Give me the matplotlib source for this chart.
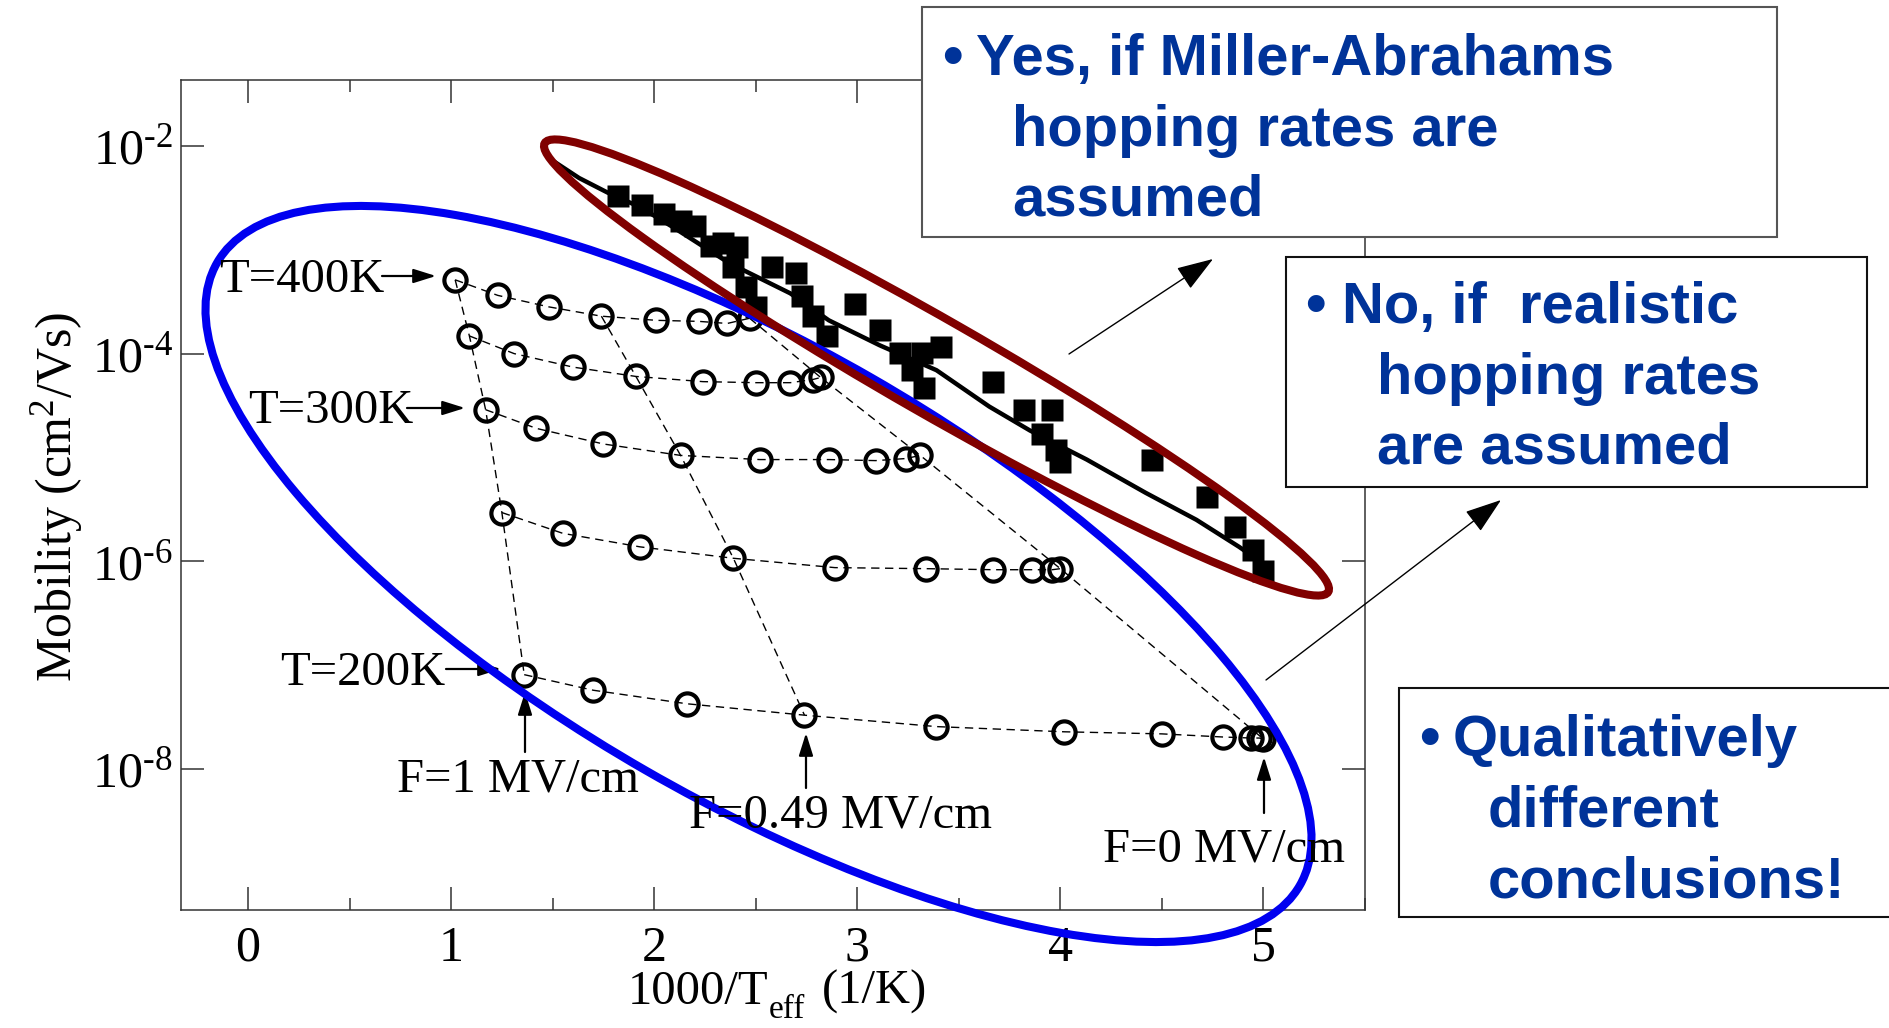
import numpy as np
import matplotlib
matplotlib.use("Agg")
import matplotlib.pyplot as plt
from matplotlib.patches import Ellipse, Rectangle, FancyArrowPatch
from matplotlib.transforms import Affine2D
from matplotlib.ticker import MultipleLocator, FixedLocator, NullLocator, FuncFormatter

plt.rcParams['font.family'] = ['Liberation Serif', 'DejaVu Serif']
plt.rcParams['mathtext.fontset'] = 'custom'
plt.rcParams['mathtext.rm'] = 'Liberation Serif'
plt.rcParams['mathtext.it'] = 'Liberation Serif:italic'
plt.rcParams['axes.unicode_minus'] = False

# ---- data: x = 1000/T_eff (1/K), values are log10(mobility in cm^2/Vs) ----
# realistic hopping rates, one row per temperature (fields 1 ... 0 MV/cm)
t400_x = [1.02, 1.23, 1.48, 1.74, 2.01, 2.22, 2.36, 2.47]
t400_mu = [-3.29, -3.44, -3.55, -3.64, -3.68, -3.69, -3.71, -3.66]
t350_x = [1.09, 1.31, 1.60, 1.91, 2.24, 2.50, 2.67, 2.78, 2.82]
t350_mu = [-3.83, -4.00, -4.13, -4.22, -4.27, -4.28, -4.28, -4.25, -4.23]
t300_x = [1.17, 1.42, 1.75, 2.13, 2.52, 2.86, 3.09, 3.24, 3.31]
t300_mu = [-4.54, -4.72, -4.87, -4.98, -5.02, -5.02, -5.03, -5.01, -4.98]
t250_x = [1.25, 1.55, 1.93, 2.39, 2.89, 3.34, 3.67, 3.86, 3.96, 4.00]
t250_mu = [-5.53, -5.73, -5.86, -5.97, -6.06, -6.07, -6.08, -6.08, -6.08, -6.07]
t200_x = [1.36, 1.70, 2.16, 2.74, 3.39, 4.02, 4.50, 4.80, 4.94, 4.98, 5.00]
t200_mu = [-7.09, -7.24, -7.37, -7.48, -7.59, -7.64, -7.66, -7.69, -7.70, -7.70, -7.71]

# Miller-Abrahams: squares and solid curve
ma_sq_x = [1.82, 1.94, 2.05, 2.13, 2.20, 2.28, 2.34, 2.41, 2.39, 2.45, 2.50, 2.58,
           2.70, 2.73, 2.78, 2.85, 2.99, 3.11, 3.21, 3.27, 3.33, 3.32, 3.41, 3.67,
           3.82, 3.96, 3.91, 3.98, 4.00, 4.45, 4.72, 4.86, 4.95, 5.00]
ma_sq_mu = [-2.48, -2.57, -2.66, -2.72, -2.77, -2.96, -2.94, -2.97, -3.17, -3.36, -3.55, -3.17,
            -3.22, -3.45, -3.64, -3.83, -3.52, -3.77, -3.99, -4.16, -4.33, -3.99, -3.94, -4.27,
            -4.54, -4.54, -4.77, -4.93, -5.04, -5.02, -5.38, -5.67, -5.89, -6.09]
ma_line_x = [1.49, 1.63, 1.77, 1.93, 2.09, 2.37, 2.67, 2.86, 3.11, 3.39, 3.65, 3.85,
             4.13, 4.42, 4.67, 4.88, 4.99]
ma_line_mu = [-2.13, -2.31, -2.45, -2.59, -2.78, -3.13, -3.42, -3.68, -3.92, -4.16, -4.51, -4.74,
              -5.02, -5.34, -5.60, -5.86, -6.01]

rows = [(t400_x, t400_mu), (t350_x, t350_mu), (t300_x, t300_mu),
        (t250_x, t250_mu), (t200_x, t200_mu)]
field_index = [0, 3, -1]   # F = 1, 0.49, 0 MV/cm

W, H = 1890, 1028
fig = plt.figure(figsize=(W / 100, H / 100), dpi=100)
# pixel coordinates of the slide, y pointing down
px = Affine2D().scale(1 / W, -1 / H).translate(0, 1) + fig.transFigure

ax = fig.add_axes([181 / W, 1 - 910 / H, (1365 - 181) / W, (910 - 80) / H])

dash = dict(color='k', lw=1.0, dashes=(6, 4))
for xs, mu in rows:
    ax.plot(xs, 10 ** np.array(mu), marker='o', ms=16, mfc='none', mec='k', mew=3.0, **dash)
for i in field_index:
    ax.plot([r[0][i] for r in rows], [10 ** r[1][i] for r in rows], zorder=1, **dash)
ax.plot(ma_line_x, 10 ** np.array(ma_line_mu), color='k', lw=3.2)
ax.plot(ma_sq_x, 10 ** np.array(ma_sq_mu), 's', ms=16.5, color='k', mec='none')

ax.set_yscale('log')
ax.set_xlim(-0.33, 5.5)
ax.set_ylim(10 ** -9.355, 10 ** -1.367)
ax.xaxis.set_major_locator(FixedLocator([0, 1, 2, 3, 4, 5]))
ax.xaxis.set_minor_locator(MultipleLocator(0.5))
ax.yaxis.set_major_locator(FixedLocator([1e-8, 1e-6, 1e-4, 1e-2]))
ax.yaxis.set_minor_locator(NullLocator())
ax.yaxis.set_major_formatter(FuncFormatter(
    lambda v, p: '10$^{\\text{%d}}$' % int(round(np.log10(v)))))
ax.tick_params(which='both', direction='in', top=True, right=True, width=1.1,
               color='#333333', labelsize=36)
ax.tick_params(which='major', length=16.5)
ax.tick_params(which='minor', length=8.6)
ax.tick_params(axis='x', pad=11)
ax.tick_params(axis='y', pad=6)
for s in ax.spines.values():
    s.set_linewidth(1.1)
    s.set_color('#333333')

fig.text(57, 497, 'Mobility (cm$^2$/Vs)', transform=px, rotation=90,
         ha='center', va='center', fontsize=36)
fig.text(768, 1004, '1000/T', transform=px, ha='right', va='baseline', fontsize=35)
fig.text(769, 1018, 'eff', transform=px, ha='left', va='baseline', fontsize=24)
fig.text(822, 1004, '(1/K)', transform=px, ha='left', va='baseline', fontsize=35)

# in-plot labels with arrows
small_head = '-|>,head_length=13.7,head_width=4.3'
labels = [('T=400K', 219, 292, (382, 276), (436, 276)),
          ('T=300K', 248, 423, (407, 408), (465, 408)),
          ('T=200K', 280, 685, (446, 669), (501, 669)),
          ('F=1 MV/cm', 397, 792, (525, 752), (525, 692)),
          ('F=0.49 MV/cm', 689, 827, (806, 788), (806, 733)),
          ('F=0 MV/cm', 1103, 862, (1264, 813), (1264, 757))]
for s, tx, ty, a, b in labels:
    fig.text(tx, ty, s, transform=px, fontsize=35, va='baseline', ha='left')
    fig.add_artist(FancyArrowPatch(a, b, transform=px, arrowstyle=small_head,
                                   mutation_scale=1, lw=1.6, color='k',
                                   shrinkA=0, shrinkB=0))

# slide overlays
fig.add_artist(Ellipse((758.5, 574), 1249, 453, angle=29.9, transform=px,
                       fill=False, ec='#0000f0', lw=5.8))
fig.add_artist(Ellipse((936.5, 367.5), 903, 94, angle=29.8, transform=px,
                       fill=False, ec='#800000', lw=5.8))

big_head = '-|>,head_length=23,head_width=7.9'
for a, b in [((1069, 354), (1213, 259)), ((1266, 680), (1501, 500))]:
    fig.add_artist(FancyArrowPatch(a, b, transform=px, arrowstyle=big_head,
                                   mutation_scale=1, lw=1.0, color='k',
                                   shrinkA=0, shrinkB=0))

blue = '#003399'
boxes = [((922, 7, 855, 230), '#555555', 952, 976, 1012, 75,
          ['Yes, if Miller-Abrahams', 'hopping rates are', 'assumed']),
         ((1286, 257, 581, 230), '#111111', 1315, 1342, 1377, 323,
          ['No, if  realistic', 'hopping rates', 'are assumed']),
         ((1399, 688, 492, 229), '#111111', 1429, 1453, 1488, 756,
          ['Qualitatively', 'different', 'conclusions!'])]
for (bx, by, bw, bh), ec, bullx, x1, x2, y1, lines in boxes:
    fig.add_artist(Rectangle((bx, by), bw, bh, transform=px, fc='white', ec=ec, lw=1.5))
    fig.text(bullx, y1, '\u2022', transform=px, ha='center', va='baseline', color=blue,
             fontsize=42, family='Liberation Sans', fontweight='bold')
    for k, line in enumerate(lines):
        fig.text(x1 if k == 0 else x2, y1 + 70.5 * k, line, transform=px, ha='left',
                 va='baseline', color=blue, fontsize=41.8, family='Liberation Sans',
                 fontweight='bold')

fig.savefig('out.png', dpi=100, facecolor='white')
